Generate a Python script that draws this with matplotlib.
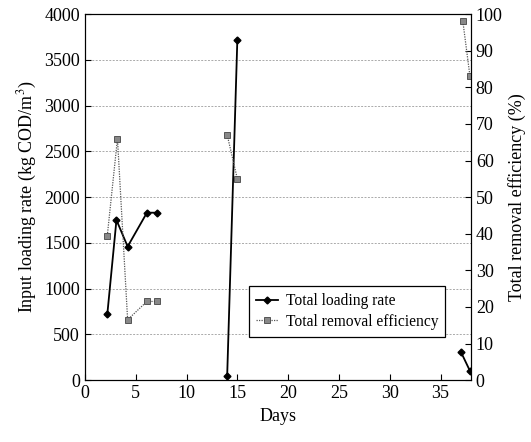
import numpy as np
import matplotlib
matplotlib.use("Agg")
import matplotlib.pyplot as plt

plt.rcParams['font.family'] = ['Liberation Serif', 'DejaVu Serif']
plt.rcParams['mathtext.fontset'] = 'stix'

# loading rate (kg COD/m3), NaN separates the runs
load_days = [2.2, 3.1, 4.2, 6.1, 7.1, np.nan, 14.0, 15.0, np.nan, 37.0, 37.9]
load_rate = [720, 1750, 1460, 1830, 1830, np.nan, 50, 3720, np.nan, 310, 100]

# removal efficiency (%)
eff_days = [2.2, 3.2, 4.2, 6.1, 7.1, np.nan, 14.0, 15.0, np.nan, 37.2, 37.9]
eff_pct = [39.5, 66, 16.5, 21.5, 21.5, np.nan, 67, 55, np.nan, 98, 83]

fig = plt.figure(figsize=(5.31, 4.42), dpi=100)
ax = fig.add_axes([0.160, 0.140, 0.727, 0.828])
ax2 = ax.twinx()

for y in range(500, 4000, 500):
    ax.axhline(y, color="#aaaaaa", linestyle=(0, (2, 1.5)), linewidth=0.7, zorder=0)

l1, = ax.plot(load_days, load_rate, color="black", linewidth=1.3, marker="D",
              markersize=3.5, label="Total loading rate")
l2, = ax2.plot(eff_days, eff_pct, color="#555555", linestyle=(0, (1, 1)), linewidth=0.9,
               marker="s", markersize=4.5, markerfacecolor="#888888",
               markeredgecolor="#444444", markeredgewidth=0.6,
               label="Total removal efficiency")

ax.set_xlim(0, 38)
ax.set_ylim(0, 4000)
ax2.set_ylim(0, 100)
ax.set_xticks(range(0, 40, 5))
ax.set_yticks(range(0, 4001, 500))
ax2.set_yticks(range(0, 101, 10))

for a in (ax, ax2):
    a.tick_params(direction="in", labelsize=13, length=4)
ax.tick_params(axis="x", top=False)

ax.set_xlabel("Days", fontsize=13)
ax.set_ylabel("Input loading rate (kg COD/m$^3$)", fontsize=13)
ax2.set_ylabel("Total removal efficiency (%)", fontsize=13)

leg = ax.legend(handles=[l1, l2], loc="upper left", bbox_to_anchor=(0.425, 0.257),
                borderaxespad=0, fontsize=11.2, frameon=True, fancybox=False,
                edgecolor="black", framealpha=1, handlelength=1.4, borderpad=0.45,
                labelspacing=0.3, handletextpad=0.5)
leg.get_frame().set_linewidth(0.9)

fig.savefig("out.png", dpi=100)
